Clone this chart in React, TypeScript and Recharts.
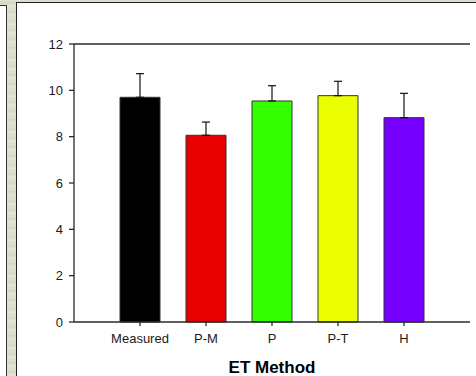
import { BarChart, Bar, XAxis, YAxis, ErrorBar, Cell, ReferenceLine } from 'recharts';

const methods = ['Measured', 'P-M', 'P', 'P-T', 'H'];
const means = [9.7, 8.06, 9.54, 9.77, 8.82];
const errors = [1.02, 0.57, 0.66, 0.62, 1.05];
const colors = ['#000000', '#e60000', '#33ff00', '#ebff00', '#7600ff'];
const yTicks = [0, 2, 4, 6, 8, 10, 12];

const data = methods.map((name, i) => ({ name, value: means[i], err: [0, errors[i]] }));

const axisColor = '#2a2a2a';
const font = 'Arial, "Liberation Sans", sans-serif';

export default function App() {
  return (
    <div
      style={{
        position: 'absolute',
        left: 0,
        top: 0,
        width: 476,
        height: 376,
        overflow: 'hidden',
        background: 'repeating-linear-gradient(180deg, #dfe2d2 0px, #d4d9c6 3px, #e3e5d8 6px, #d8dccb 9px)',
      }}
    >
      <div
        style={{
          position: 'absolute',
          left: 0,
          top: 5,
          width: 7,
          height: 380,
          background: '#ffffff',
          borderTop: '1px solid #333',
          borderRight: '1px solid #333',
          boxSizing: 'border-box',
        }}
      />
      <div
        style={{
          position: 'absolute',
          left: 16,
          top: 2,
          width: 480,
          height: 390,
          background: '#ffffff',
          borderLeft: '1px solid #222',
          borderTop: '1px solid #222',
          boxSizing: 'border-box',
        }}
      />
      <div style={{ position: 'absolute', left: 0, top: 0 }}>
        <BarChart width={476} height={376} data={data} margin={{ top: 44, right: 6, left: 0, bottom: 0 }}>
          <XAxis
            dataKey="name"
            padding={{ left: 33, right: 33 }}
            stroke={axisColor}
            strokeWidth={1.3}
            tickSize={4}
            tickMargin={8}
            height={54}
            tick={{ fill: '#1a1a1a', fontSize: 13, fontFamily: font }}
            label={{
              value: 'ET Method',
              position: 'insideBottom',
              offset: 3,
              style: { fill: '#000', fontSize: 17, fontWeight: 'bold', fontFamily: font },
            }}
          />
          <YAxis
            domain={[0, 12]}
            ticks={yTicks}
            width={74}
            stroke={axisColor}
            strokeWidth={1.3}
            tickSize={5}
            tickMargin={6}
            tick={{ fill: '#1a1a1a', fontSize: 13, fontFamily: font }}
          />
          <YAxis
            yAxisId="right"
            orientation="right"
            domain={[0, 12]}
            width={0}
            stroke={axisColor}
            strokeWidth={1.3}
            tick={false}
            tickLine={false}
          />
          <ReferenceLine y={12} stroke={axisColor} strokeWidth={1.3} ifOverflow="visible" />
          <Bar dataKey="value" barSize={40} stroke="#333" strokeWidth={1} isAnimationActive={false}>
            {data.map((d, i) => (
              <Cell key={d.name} fill={colors[i]} />
            ))}
            <ErrorBar dataKey="err" direction="y" width={4} stroke="#111" strokeWidth={1.2} isAnimationActive={false} />
          </Bar>
        </BarChart>
      </div>
    </div>
  );
}
